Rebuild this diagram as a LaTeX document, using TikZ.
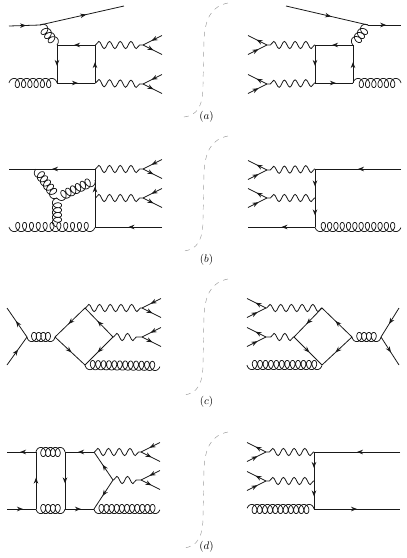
\documentclass[tikz,border=0pt]{standalone}
\usetikzlibrary{decorations.pathmorphing,decorations.markings,arrows.meta,calc}
\tikzset{
  x=1pt,y=-1pt,
  base/.style={line width=0.8pt,black!90},
  fm/.style={base,postaction={decorate,decoration={markings,mark=at position #1 with {\arrow{Stealth[length=6pt,width=4.6pt]}}}}},
  fm/.default=0.55,
  wave/.style={base,decorate,decoration={snake,segment length=10.7pt,amplitude=3.6pt,pre length=0.5pt,post length=0.5pt}},
  glu/.style={base,line width=0.75pt,line join=round},
  cut/.style={line width=0.45pt,gray!80,dash pattern=on 5pt off 5pt},
  lab/.style={inner sep=0pt,font=\fontsize{11}{13}\selectfont}
}
\newcommand{\gluon}[3]{%
  \path let \p1=(#1), \p2=(#2) in \pgfextra{%
    \pgfmathsetmacro\glA{atan2(\y2-\y1,\x2-\x1)}%
    \pgfmathsetmacro\glL{veclen(\x2-\x1,\y2-\y1)}%
    \xdef\glAng{\glA}\xdef\glLen{\glL}};
  \begin{scope}[shift={(#1)},rotate=\glAng,x=1pt,y=1pt]
    \pgfmathsetmacro\glS{int(#3*28+12)}%
    \draw[glu] plot[domain=0:1,samples=\glS,variable=\t]
      ({3.6+(\glLen-7.2)*\t+3.6*sin(-90+(360*#3+180)*\t)},{-4.6*cos(-90+(360*#3+180)*\t)});
  \end{scope}}
\newcommand{\pairL}[3]{%
  \coordinate (#1) at (#2,#3);
  \coordinate (#1u) at (#2+19,#3-9.5);
  \coordinate (#1d) at (#2+19,#3+9.5);
  \draw[fm] (#1u) -- (#1);
  \draw[fm] (#1) -- (#1d);}
\newcommand{\pairR}[3]{%
  \coordinate (#1) at (#2,#3);
  \coordinate (#1u) at (#2-19,#3-9.5);
  \coordinate (#1d) at (#2-19,#3+9.5);
  \draw[fm] (#1) -- (#1u);
  \draw[fm] (#1d) -- (#1);}
\newcommand{\cutline}[4]{%
  \coordinate (#1t) at (228,#2);
  \coordinate (#1b) at (183,#3);
  \draw[cut] (#1t) .. controls (212,#2+3) and (205,#2+15) .. (204,#2+37)
    -- (203,#3-32) .. controls (203,#3-12) and (198,#3-1) .. (#1b);
  \node[lab] (#1lab) at (206.5,#4) {$(#1)$};}
\begin{document}
\begin{tikzpicture}
\useasboundingbox (0,0) rectangle (407,558);
\cutline{a}{3}{117}{117}
\cutline{b}{136}{251}{260}
\cutline{c}{279}{395}{402}
\cutline{d}{432}{548}{547}

% (a) left
\coordinate (a1) at (9,26); \coordinate (a2) at (40,25); \coordinate (a3) at (124,6);
\coordinate (a4) at (57,45); \coordinate (a5) at (95,45); \coordinate (a6) at (95,83); \coordinate (a7) at (57,83);
\coordinate (a8) at (9,83);
\draw[fm] (a1) -- (a2); \draw[fm] (a2) -- (a3);
\gluon{a4}{a2}{3}
\draw[fm] (a5) -- (a4); \draw[fm] (a4) -- (a7); \draw[fm] (a7) -- (a6); \draw[fm] (a6) -- (a5);
\gluon{a7}{a8}{6}
\pairL{av1}{143}{45} \pairL{av2}{143}{84}
\draw[wave] (a5) -- (av1); \draw[wave] (a6) -- (av2);

% (a) right
\coordinate (A1) at (401,25); \coordinate (A2) at (368,25); \coordinate (A3) at (286,6);
\coordinate (A4) at (353,45); \coordinate (A5) at (315,45); \coordinate (A6) at (315,83); \coordinate (A7) at (353,83);
\coordinate (A8) at (401,83);
\draw[fm] (A2) -- (A1); \draw[fm] (A3) -- (A2);
\gluon{A2}{A4}{3}
\draw[fm] (A4) -- (A5); \draw[fm] (A5) -- (A6); \draw[fm] (A6) -- (A7); \draw[fm] (A7) -- (A4);
\gluon{A8}{A7}{6}
\pairR{Av1}{267}{45} \pairR{Av2}{267}{84}
\draw[wave] (A5) -- (Av1); \draw[wave] (A6) -- (Av2);

% (b) left
\coordinate (b1) at (9,169); \coordinate (b2) at (95,169); \coordinate (b3) at (95,227); \coordinate (b4) at (9,227);
\coordinate (b5) at (162,227); \coordinate (b6) at (36,169); \coordinate (b7) at (57,198); \coordinate (b8) at (95,180);
\coordinate (b9) at (57,227); \coordinate (b10) at (95,198);
\draw[fm=0.5] (b2) -- (b1);
\draw[fm=0.7] (b3) -- (b2);
\draw[fm=0.5] (b5) -- (b3);
\gluon{b4}{b3}{11}
\gluon{b6}{b7}{5} \gluon{b7}{b8}{6} \gluon{b7}{b9}{4}
\pairL{bv1}{143}{169} \pairL{bv2}{143}{198}
\draw[wave] (b2) -- (bv1); \draw[wave] (b10) -- (bv2);

% (b) right
\coordinate (B1) at (401,169); \coordinate (B2) at (315,169); \coordinate (B3) at (315,198); \coordinate (B4) at (315,227);
\coordinate (B5) at (248,227); \coordinate (B6) at (401,227);
\draw[fm=0.5] (B1) -- (B2);
\draw[fm=0.6] (B2) -- (B3); \draw[fm=0.6] (B3) -- (B4);
\draw[fm=0.5] (B4) -- (B5);
\gluon{B4}{B6}{12}
\pairR{Bv1}{267}{170} \pairR{Bv2}{267}{198}
\draw[wave] (B2) -- (Bv1); \draw[wave] (B3) -- (Bv2);

% (c) left
\coordinate (c1) at (7,308); \coordinate (c2) at (27,337); \coordinate (c3) at (7,365);
\coordinate (c4) at (55,337); \coordinate (c5) at (85,308); \coordinate (c6) at (113,337); \coordinate (c7) at (85,365);
\coordinate (c8) at (160,366);
\draw[fm] (c2) -- (c1); \draw[fm] (c3) -- (c2);
\gluon{c2}{c4}{4}
\draw[fm] (c5) -- (c4); \draw[fm] (c4) -- (c7); \draw[fm] (c6) -- (c5); \draw[fm] (c6) -- (c7);
\gluon{c7}{c8}{12}
\pairL{cv1}{142}{308} \pairL{cv2}{142}{337}
\draw[wave] (c5) -- (cv1); \draw[wave] (c6) -- (cv2);

% (c) right
\coordinate (C1) at (399,308); \coordinate (C2) at (381,337); \coordinate (C3) at (399,365);
\coordinate (C4) at (352,337); \coordinate (C5) at (322,308); \coordinate (C6) at (294,337); \coordinate (C7) at (322,365);
\coordinate (C8) at (247,365);
\draw[fm] (C1) -- (C2); \draw[fm] (C2) -- (C3);
\gluon{C4}{C2}{4}
\draw[fm] (C4) -- (C5); \draw[fm] (C4) -- (C7); \draw[fm] (C5) -- (C6); \draw[fm] (C6) -- (C7);
\gluon{C8}{C7}{12}
\pairR{Cv1}{266}{308} \pairR{Cv2}{266}{337}
\draw[wave] (C5) -- (Cv1); \draw[wave] (C6) -- (Cv2);

% (d) left
\coordinate (d1) at (7,452); \coordinate (d2) at (36,452); \coordinate (d3) at (65,452); \coordinate (d4) at (94,452);
\coordinate (d5) at (7,509); \coordinate (d6) at (36,509); \coordinate (d7) at (65,509); \coordinate (d8) at (94,509);
\coordinate (d9) at (113,480); \coordinate (d10) at (160,509);
\draw[fm] (d2) -- (d1); \draw[fm] (d4) -- (d3);
\draw[fm] (d5) -- (d6); \draw[fm] (d7) -- (d8);
\draw[fm] (d6) -- (d2); \draw[fm] (d3) -- (d7);
\gluon{d3}{d2}{4} \gluon{d6}{d7}{4}
\draw[fm] (d9) -- (d4); \draw[fm] (d9) -- (d8);
\gluon{d8}{d10}{11}
\pairL{dv1}{141}{452} \pairL{dv2}{141}{480}
\draw[wave] (d4) -- (dv1); \draw[wave] (d9) -- (dv2);

% (d) right
\coordinate (D1) at (400,452); \coordinate (D2) at (314,452); \coordinate (D3) at (314,481); \coordinate (D4) at (314,509);
\coordinate (D5) at (400,509); \coordinate (D6) at (247,509);
\draw[fm=0.5] (D1) -- (D2); \draw[fm=0.5] (D4) -- (D5);
\draw[fm=0.55] (D2) -- (D3); \draw[fm=0.55] (D3) -- (D4);
\gluon{D4}{D6}{11}
\pairR{Dv1}{266}{452} \pairR{Dv2}{266}{481}
\draw[wave] (D2) -- (Dv1); \draw[wave] (D3) -- (Dv2);
\end{tikzpicture}
\end{document}
